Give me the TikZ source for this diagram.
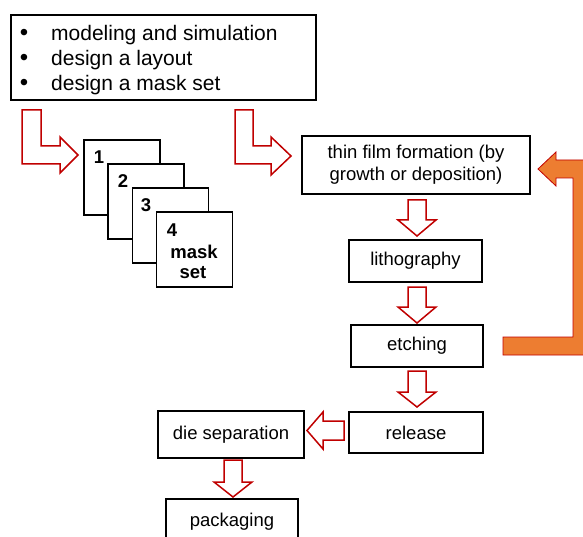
\documentclass[tikz,border=0pt]{standalone}
\usepackage{fontspec}
\setmainfont{Liberation Sans}
\definecolor{arred}{HTML}{C00000}
\definecolor{arorange}{HTML}{ED7D31}
\begin{document}
\begin{tikzpicture}[x=1pt,y=-1pt,
  box/.style={draw=black,line width=1.6pt,fill=white,inner sep=0pt,font=\fontsize{18.5}{22}\selectfont,align=center},
  maskbox/.style={draw=black,line width=1.6pt,fill=white,inner sep=0pt,minimum width=76pt,minimum height=75pt},
  masklbl/.style={font=\fontsize{18.5}{21}\selectfont\bfseries,inner sep=0pt},
  bul/.style={font=\fontsize{21}{26}\selectfont,inner sep=0pt,anchor=base west},
  bdot/.style={font=\fontsize{24}{24}\selectfont,inner sep=0pt,anchor=base},
  blockarrow/.style={draw=arred,line width=1.5pt,fill=white,line join=miter},
  looparrow/.style={draw=arred,line width=0.8pt,fill=arorange,line join=miter}]
\useasboundingbox (0,0) rectangle (583,537);

% top box with bullets
\node[box,minimum width=305pt,minimum height=85pt] (top) at (163.5,57.5) {};
\foreach \y/\t [count=\i] in {40.5/modeling and simulation,65.5/design a layout,91/design a mask set}{
  \node[bdot] (b\i) at (24,\y) {•};
  \node[bul] (t\i) at (51,\y) {\t};
}

% mask set
\node[maskbox] (m1) at (122,177.5) {};
\node[maskbox] (m2) at (146,201.5) {};
\node[maskbox] (m3) at (170.5,225.5) {};
\node[maskbox] (m4) at (194.5,249.5) {};
\node[masklbl] (l1) at (99,157) {1};
\node[masklbl] (l2) at (123,181) {2};
\node[masklbl] (l3) at (146,205) {3};
\node[masklbl] (l4) at (172,230) {4};
\node[masklbl] (l5) at (194,252) {mask};
\node[masklbl] (l6) at (193,273) {set};

% process boxes
\node[box,minimum width=228pt,minimum height=58pt] (film) at (416,165) {thin film formation (by\\growth or deposition)};
\node[box,minimum width=133pt,minimum height=42pt] (litho) at (415.5,261) {lithography};
\node[box,minimum width=132pt,minimum height=42pt] (etch) at (417,346) {etching};
\node[box,minimum width=134pt,minimum height=41pt] (rel) at (416,432.5) {release};
\node[box,minimum width=146pt,minimum height=47pt] (die) at (231,434.5) {die separation};
\node[box,minimum width=132pt,minimum height=45pt] (pack) at (232,521.5) {packaging};

% L-shaped arrows
\draw[blockarrow] (22,110) -- (41,110) -- (41,146) -- (60,146) -- (60,137) -- (78,155)
  -- (60,173) -- (60,164) -- (22,164) -- cycle;
\draw[blockarrow] (235,110) -- (253,110) -- (253,146) -- (271,146) -- (271,137) -- (291,156)
  -- (271,175) -- (271,164) -- (235,164) -- cycle;

% straight down arrows
\foreach \cx/\top/\hs/\tip in {417/200/220/236, 417/287/307/323, 417/371/392/407, 233/460/482/497}{
  \draw[blockarrow] (\cx-9,\top) -- (\cx+9,\top) -- (\cx+9,\hs) -- (\cx+19,\hs) -- (\cx,\tip)
    -- (\cx-19,\hs) -- (\cx-9,\hs) -- cycle;
}
% left arrow release -> die
\draw[blockarrow] (344,421) -- (344,440) -- (323,440) -- (323,449) -- (307,430.5)
  -- (323,412) -- (323,421) -- cycle;

% orange loop arrow etching -> film
\draw[looparrow] (503,337) -- (573,337) -- (573,178) -- (556,178) -- (556,186) -- (538,169)
  -- (556,152) -- (556,160) -- (591,160) -- (591,355) -- (503,355) -- cycle;
\end{tikzpicture}
\end{document}
